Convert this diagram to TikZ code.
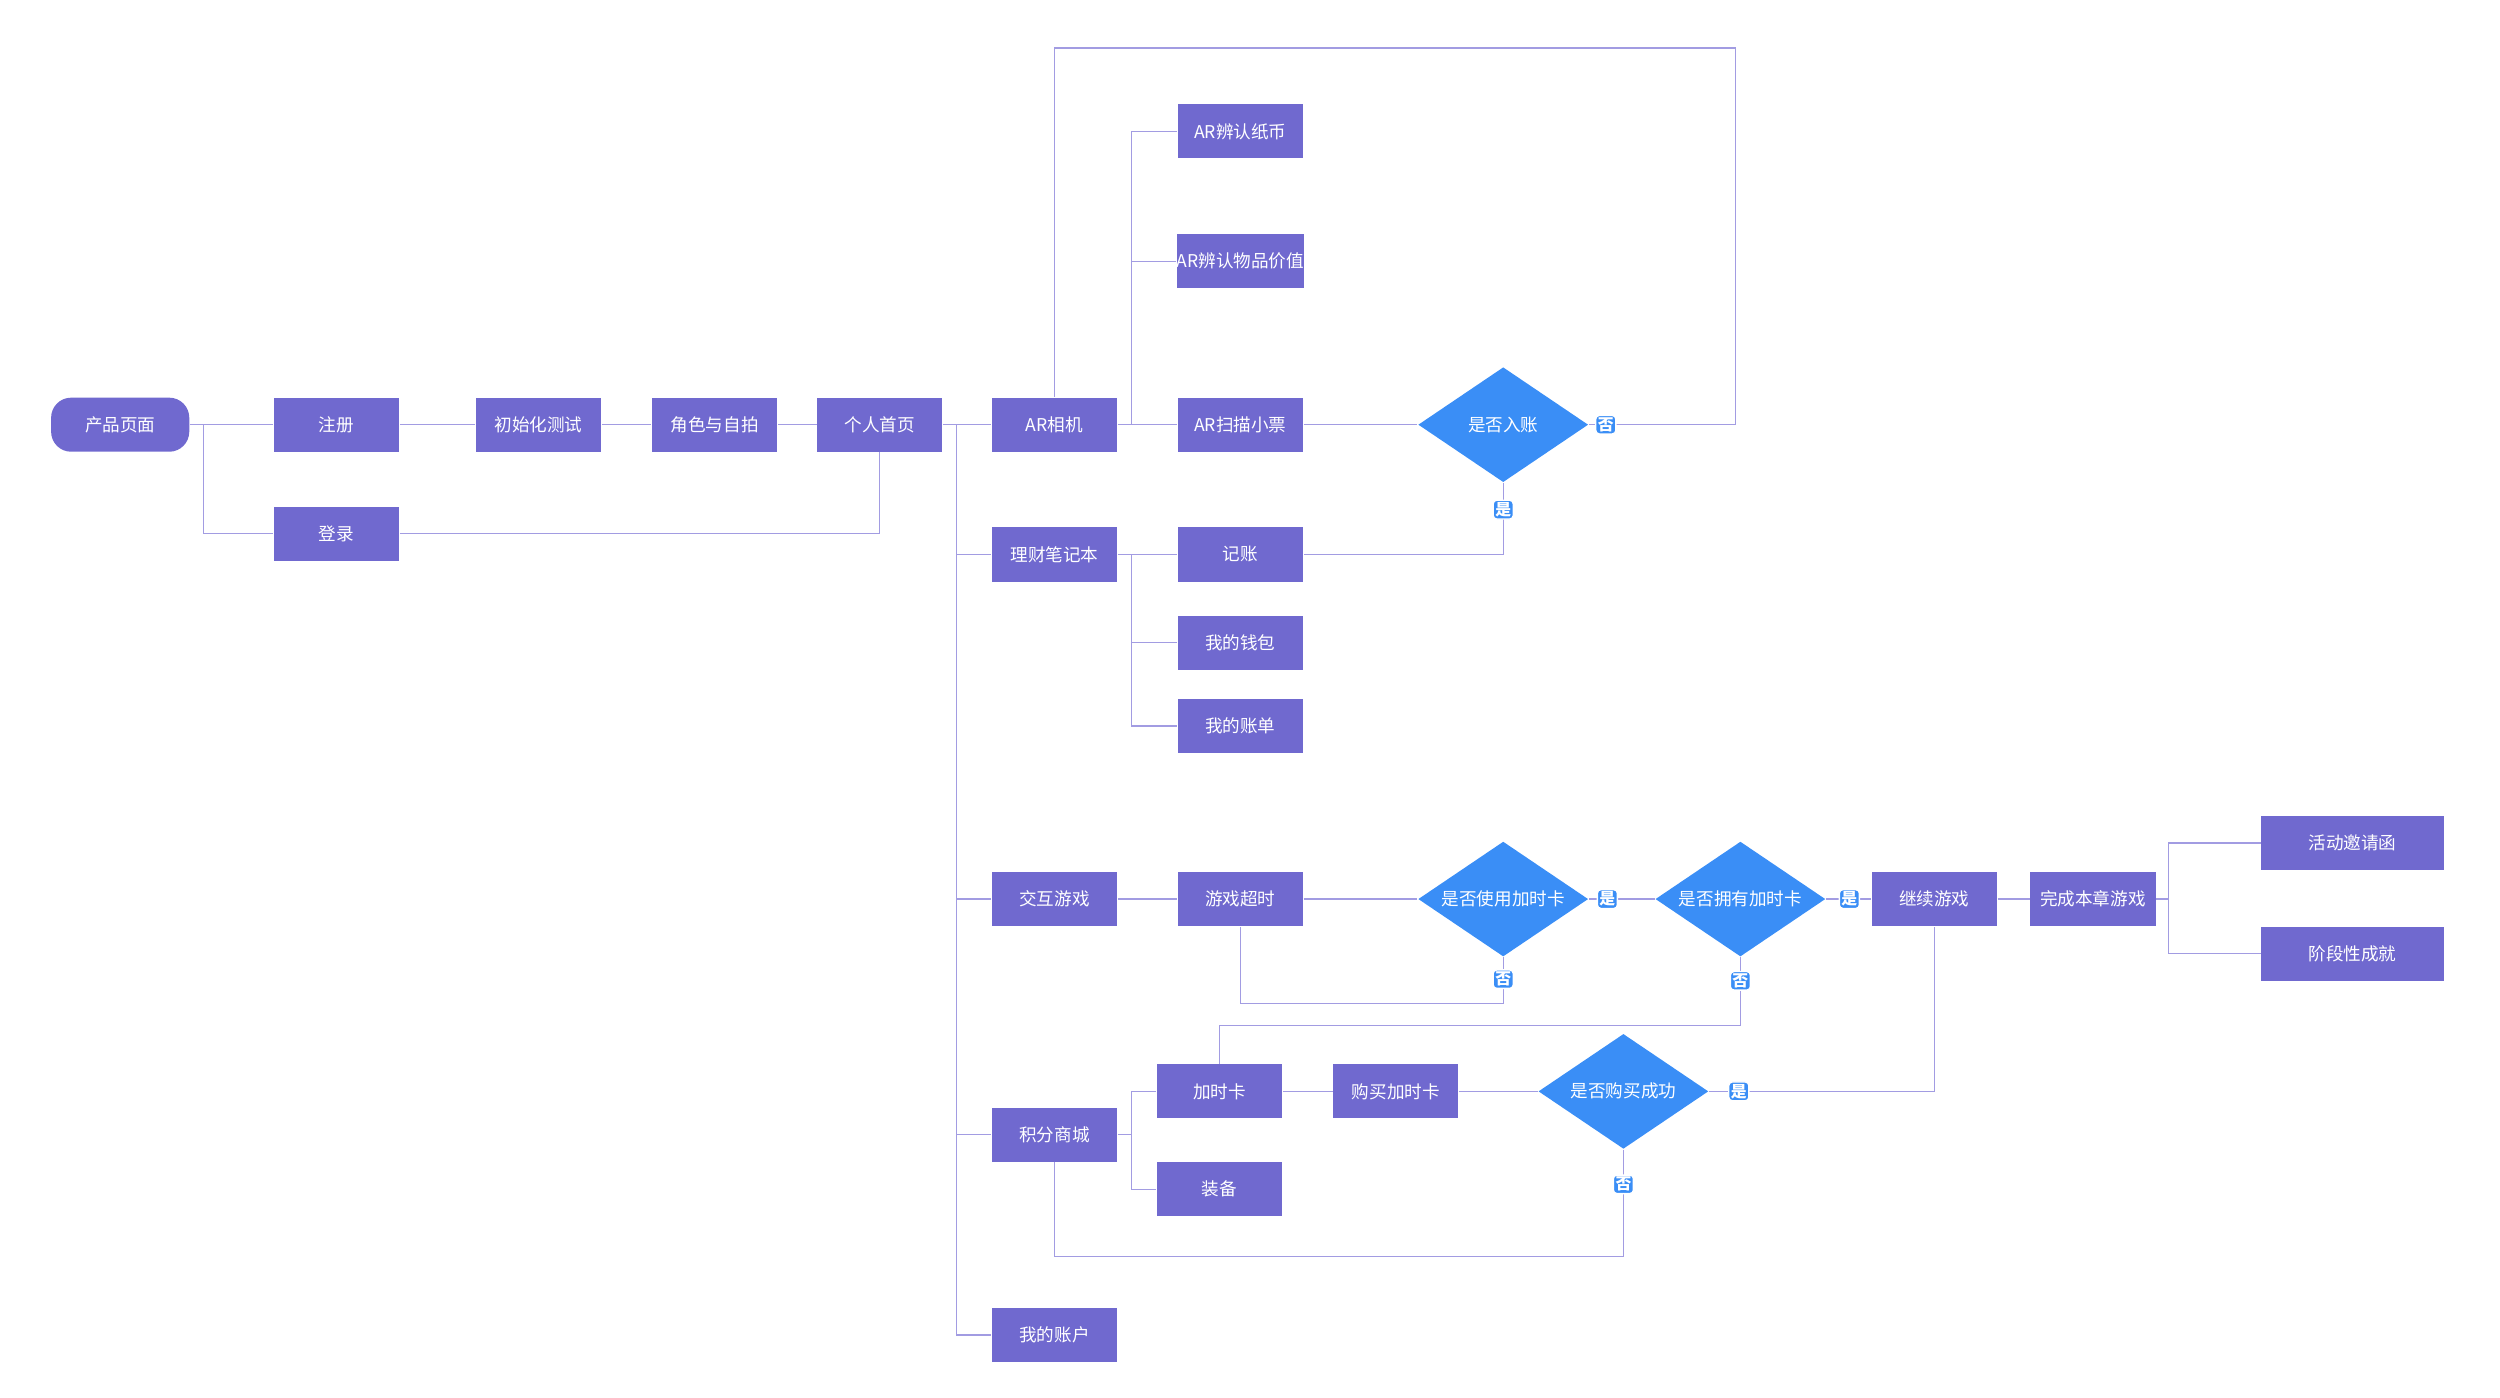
\documentclass[tikz,border=0pt]{standalone}
\usepackage{fontspec}
\setmainfont{Noto Sans CJK SC}
\usetikzlibrary{shapes.geometric}
\definecolor{boxc}{HTML}{7069CF}
\definecolor{diac}{HTML}{3A8EF6}
\definecolor{linec}{HTML}{A29CE2}
\tikzset{
  box/.style={fill=boxc, text=white, minimum width=1.25cm, minimum height=0.54cm, inner sep=0pt, font=\fontsize{5}{6}\selectfont},
  wbox/.style={box, minimum width=1.82cm},
  dia/.style={diamond, fill=diac, text=white, minimum width=1.7cm, minimum height=1.15cm, aspect=1.5, inner sep=0pt, font=\fontsize{5}{6}\selectfont},
  tag/.style={fill=diac, draw=white, rounded corners=1pt, text=white, inner sep=0.6pt, font=\fontsize{4.5}{5}\selectfont\bfseries},
  link/.style={draw=linec, line width=0.35pt},
}
\begin{document}
\begin{tikzpicture}[x=0.016cm, y=-0.016cm]
\useasboundingbox (0,0) rectangle (1560,872);

% first row
\node [box, rounded corners=0.2cm, minimum width=1.38cm] (prod) at (75,265) {产品页面};
\node [box] (reg) at (210,265) {注册};
\node [box] (login) at (210,333) {登录};
\node [box] (init) at (336,265) {初始化测试};
\node [box] (role) at (446,265) {角色与自拍};
\node [box] (home) at (549,265) {个人首页};

% modules
\node [box] (ar) at (658,265) {AR相机};
\node [box] (note) at (658,346) {理财笔记本};
\node [box] (game) at (658,561) {交互游戏};
\node [box] (shop) at (658,708) {积分商城};
\node [box] (acct) at (658,833) {我的账户};

% AR
\node [box] (arm) at (774,82) {AR辨认纸币};
\node [box] (arv) at (774,163) {AR辨认物品价值};
\node [box] (ars) at (774,265) {AR扫描小票};
\node [dia] (dacc) at (938,265) {是否入账};

% notebook
\node [box] (jz) at (774,346) {记账};
\node [box] (wallet) at (774,401) {我的钱包};
\node [box] (bill) at (774,453) {我的账单};

% game
\node [box] (tout) at (774,561) {游戏超时};
\node [dia] (duse) at (938,561) {是否使用加时卡};
\node [dia] (dhave) at (1086,561) {是否拥有加时卡};
\node [box] (cont) at (1207,561) {继续游戏};
\node [box] (done) at (1306,561) {完成本章游戏};
\node [wbox] (invite) at (1468,526) {活动邀请函};
\node [wbox] (achv) at (1468,595) {阶段性成就};

% shop
\node [box] (card) at (761,681) {加时卡};
\node [box] (equip) at (761,742) {装备};
\node [box] (buy) at (871,681) {购买加时卡};
\node [dia] (dbuy) at (1013,681) {是否购买成功};

% links
\draw [link] (prod) -- (reg);
\draw [link] (prod.east) -- (127,265) |- (login);
\draw [link] (login) -| (home);
\draw [link] (reg) -- (init);
\draw [link] (init) -- (role);
\draw [link] (role) -- (home);
\draw [link] (home) -- (597,265) |- (acct);
\foreach \m in {ar, note, game, shop} \draw [link] (597,265) |- (\m);
\foreach \m in {arm, arv, ars} \draw [link] (ar.east) -- (706,265) |- (\m);
\foreach \m in {jz, wallet, bill} \draw [link] (note.east) -- (706,346) |- (\m);
\foreach \m in {card, equip} \draw [link] (shop.east) -- (706,708) |- (\m);
\draw [link] (ars) -- (dacc);
\draw [link] (dacc) -- (1083,265) -- (1083,30) -| (ar);
\draw [link] (dacc) |- (jz);
\draw [link] (game) -- (tout);
\draw [link] (tout) -- (duse);
\draw [link] (duse) -- (dhave);
\draw [link] (dhave) -- (cont);
\draw [link] (cont) -- (done);
\foreach \m in {invite, achv} \draw [link] (done.east) -- (1353,561) |- (\m);
\draw [link] (duse) -- (938,626) -| (tout);
\draw [link] (dhave) -- (1086,640) -| (card);
\draw [link] (card) -- (buy);
\draw [link] (buy) -- (dbuy);
\draw [link] (dbuy) -| (cont);
\draw [link] (dbuy) -- (1013,784) -| (shop);

% tags
\node [tag] (t1) at (1002,265) {否};
\node [tag] (t2) at (938,318) {是};
\node [tag] (t3) at (1003,561) {是};
\node [tag] (t4) at (938,611) {否};
\node [tag] (t5) at (1154,561) {是};
\node [tag] (t6) at (1086,612) {否};
\node [tag] (t7) at (1085,681) {是};
\node [tag] (t8) at (1013,739) {否};
\end{tikzpicture}
\end{document}
